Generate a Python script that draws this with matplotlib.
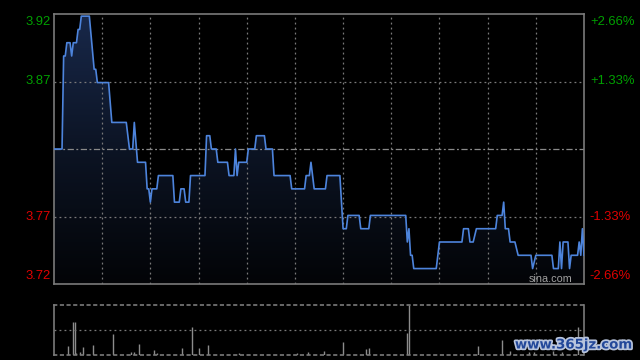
import numpy as np
import matplotlib
matplotlib.use("Agg")
import matplotlib.pyplot as plt
import matplotlib.patheffects as pe
from matplotlib.colors import LinearSegmentedColormap

plt.rcParams['font.family'] = ['Liberation Sans Narrow', 'Liberation Sans', 'DejaVu Sans']

# 分时数据 (分钟序号, 价格)
minutes = [0, 5, 6, 7, 8, 10, 11, 12, 14, 15, 16, 17, 22, 25, 26, 27, 34, 36, 45, 47,
           49, 50, 52, 57, 58, 59, 60, 61, 64, 65, 74, 75, 78, 79, 81, 82, 84, 85, 94, 95,
           97, 98, 101, 102, 108, 109, 112, 113, 114, 115, 120, 121, 125, 126, 131, 132, 136, 137, 147, 148,
           156, 157, 159, 160, 162, 169, 170, 178, 180, 182, 183, 190, 191, 196, 197, 219, 220, 221, 222, 223,
           224, 238, 240, 254, 255, 258, 259, 261, 263, 275, 276, 279, 280, 281, 283, 284, 287, 289, 297, 298,
           300, 310, 311, 314, 315, 316, 317, 320, 321, 322, 326, 327, 328, 329, 330]
prices = [3.82, 3.82, 3.89, 3.89, 3.90, 3.90, 3.89, 3.90, 3.90, 3.91, 3.91, 3.92, 3.92, 3.88, 3.88, 3.87, 3.87, 3.84, 3.84, 3.82,
          3.82, 3.84, 3.81, 3.81, 3.79, 3.79, 3.78, 3.79, 3.79, 3.80, 3.80, 3.78, 3.78, 3.79, 3.79, 3.78, 3.78, 3.80, 3.80, 3.83,
          3.83, 3.82, 3.82, 3.81, 3.81, 3.80, 3.80, 3.82, 3.80, 3.81, 3.81, 3.82, 3.82, 3.83, 3.83, 3.82, 3.82, 3.80, 3.80, 3.79,
          3.79, 3.80, 3.80, 3.81, 3.79, 3.79, 3.80, 3.80, 3.76, 3.76, 3.77, 3.77, 3.76, 3.76, 3.77, 3.77, 3.75, 3.76, 3.74, 3.74,
          3.73, 3.73, 3.75, 3.75, 3.76, 3.76, 3.75, 3.75, 3.76, 3.76, 3.77, 3.77, 3.78, 3.76, 3.76, 3.75, 3.75, 3.74, 3.74, 3.73,
          3.74, 3.74, 3.73, 3.73, 3.75, 3.73, 3.75, 3.75, 3.73, 3.74, 3.74, 3.75, 3.74, 3.76, 3.74]

# 成交量 (分钟序号, 量)
vol_minutes = [9, 12, 13, 14, 16, 18, 24, 37, 48, 50, 53, 62, 64, 80, 86, 90, 96, 115, 151, 158,
               168, 180, 194, 196, 220, 221, 264, 279, 284, 296, 299, 311, 316, 326]
volumes = [9, 33, 33, 2, 3, 8, 10, 21, 3, 3, 11, 5, 2, 7, 28, 7, 10, 2, 2, 3,
           4, 13, 6, 7, 22, 50, 9, 15, 4, 3, 3, 4, 3, 28]

prev_close = 3.82
max_pct = 2.66
left_labels = ['3.92', '3.87', '3.77', '3.72']
right_labels = ['+2.66%', '+1.33%', '-1.33%', '-2.66%']
total_minutes = 330

span = prev_close * max_pct / 100
lo, hi = prev_close - span, prev_close + span
levels = [hi, prev_close + span / 2, prev_close - span / 2, lo]

fig = plt.figure(figsize=(6.4, 3.6), dpi=100, facecolor='black')
ax = fig.add_axes([54 / 640, 1 - 284 / 360, 530 / 640, 270 / 360])
axv = fig.add_axes([54 / 640, 1 - 354.5 / 360, 530 / 640, 50 / 360])

grid_c = '#7a7a7a'
for a in (ax, axv):
    a.set_facecolor('black')
    a.set_xlim(0, total_minutes)
    a.set_xticks([])
    a.set_yticks([])
    for s in a.spines.values():
        s.set_color(grid_c)
        s.set_linewidth(1.2)

ax.set_ylim(lo, hi)

# 渐变填充
cmap = LinearSegmentedColormap.from_list('f', ['#030407', '#0c1424', '#18284a'])
grad = np.linspace(0, 1, 256).reshape(-1, 1)
img = ax.imshow(grad, cmap=cmap, aspect='auto', origin='lower',
                extent=[0, total_minutes, lo, hi], zorder=1)
poly = ax.fill_between(minutes, prices, lo, facecolor='none', edgecolor='none')
img.set_clip_path(poly.get_paths()[0], transform=ax.transData)

# 网格
for t in range(30, total_minutes, 30):
    ax.axvline(t, color=grid_c, lw=0.9, ls=(0, (1.5, 2.5)), zorder=2)
for lv in levels[1:3]:
    ax.axhline(lv, color=grid_c, lw=0.9, ls=(0, (1.5, 2.5)), zorder=2)
ax.axhline(prev_close, color='#8a8a8a', lw=0.9, ls=(0, (5, 2, 1.5, 2)), zorder=2)

ax.plot(minutes, prices, color='#4d84dc', lw=1.2, zorder=3)

# 坐标标签
colors = ['#00a000', '#00a000', '#e00000', '#e00000']
vas = ['top', 'center', 'center', 'bottom']
for lv, l, r, c, va in zip(levels, left_labels, right_labels, colors, vas):
    off = {'top': -0.0015, 'center': 0, 'bottom': 0.0015}[va]
    ax.text(-0.006, lv + off, l, color=c, fontsize=9.4, ha='right', va=va,
            transform=ax.get_yaxis_transform())
    ax.text(1.011, lv + off, r, color=c, fontsize=9.4, ha='left', va=va,
            transform=ax.get_yaxis_transform())

ax.text(0.979, 0.008, 'sina.com', color='#a0a0a0', fontsize=7.8, ha='right', va='baseline',
        transform=ax.transAxes, family=['Liberation Sans', 'DejaVu Sans'], zorder=4)

# 成交量
axv.set_ylim(0, 50)
axv.vlines(vol_minutes, 0, volumes, color='#8c8c8c', lw=1)
axv.axhline(25, color=grid_c, lw=0.9, ls=(0, (1.5, 2.5)))
axv.spines['top'].set_linestyle((0, (1.5, 2.5)))
axv.spines['bottom'].set_linestyle((0, (1.5, 2.5)))

fig.text(633 / 640, 1 - 345 / 360, 'www.365jz.com', color='#23489a', fontsize=9.6,
         fontweight='bold', ha='right', va='center', family=['DejaVu Sans'],
         path_effects=[pe.withStroke(linewidth=2.5, foreground='#b8c4dc')])

fig.savefig('out.png', dpi=100, facecolor='black')
